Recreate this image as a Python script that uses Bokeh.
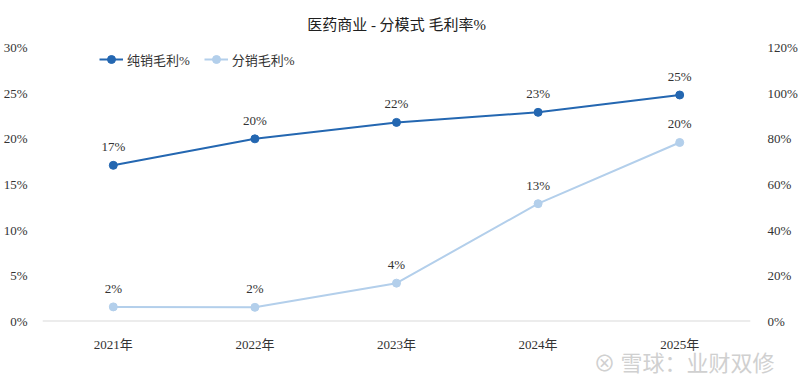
from bokeh.plotting import figure
from bokeh.models import (ColumnDataSource, Range1d, LinearAxis, FixedTicker, Title,
                          Legend, LegendItem, LabelSet, Span, CustomJSTickFormatter)
from bokeh.core.properties import value
from bokeh.embed import file_html
from bokeh.resources import INLINE

years = ["2021年", "2022年", "2023年", "2024年", "2025年"]
direct_margin = [17.1, 20.0, 21.8, 22.9, 24.8]      # 纯销毛利%
dist_margin = [1.6, 1.55, 4.2, 12.9, 19.6]          # 分销毛利%
left_ticks = [0, 5, 10, 15, 20, 25, 30]
right_ticks = [0, 20, 40, 60, 80, 100, 120]

FONT = "'Liberation Serif', 'Noto Sans CJK SC', serif"
DARK = "#2467b1"
LIGHT = "#b3cfeb"
TXT = "#333333"

src = ColumnDataSource(dict(
    x=years,
    d=direct_margin,
    s=dist_margin,
    dl=["%d%%" % round(v) for v in direct_margin],
    sl=["%d%%" % int(v + 0.5) for v in dist_margin],
))

p = figure(x_range=years, y_range=Range1d(0, 30),
           frame_width=708, frame_height=274,
           min_border_left=42, min_border_right=34, min_border_top=47, min_border_bottom=56,
           output_backend="svg", toolbar_location=None,
           outline_line_color=None, border_fill_color="white", background_fill_color="white")
p.extra_y_ranges = {"r": Range1d(0, 120)}

p.xgrid.visible = False
p.ygrid.visible = False

for ax in [p.xaxis[0], p.yaxis[0]]:
    ax.axis_line_color = None
    ax.major_tick_line_color = None
    ax.minor_tick_line_color = None
    ax.major_label_text_font = FONT
    ax.major_label_text_font_size = "13px"
    ax.major_label_text_color = TXT

p.yaxis[0].ticker = FixedTicker(ticks=left_ticks)
p.yaxis[0].formatter = CustomJSTickFormatter(code="return tick + '%';")
p.yaxis[0].major_label_standoff = 9
p.xaxis[0].major_label_standoff = 9

rax = LinearAxis(y_range_name="r", ticker=FixedTicker(ticks=right_ticks),
                 formatter=CustomJSTickFormatter(code="return tick + '%';"))
rax.axis_line_color = None
rax.major_tick_line_color = None
rax.minor_tick_line_color = None
rax.major_label_text_font = FONT
rax.major_label_text_font_size = "13px"
rax.major_label_text_color = TXT
rax.major_label_standoff = 11
p.add_layout(rax, "right")

p.add_layout(Span(location=0, dimension="width", line_color="#d9d9d9", line_width=2))

l1 = p.line("x", "d", source=src, line_color=DARK, line_width=2)
c1 = p.scatter("x", "d", source=src, size=8, fill_color=DARK, line_color=DARK)
l2 = p.line("x", "s", source=src, line_color=LIGHT, line_width=2)
c2 = p.scatter("x", "s", source=src, size=8, fill_color=LIGHT, line_color=LIGHT)

for col, lab in [("d", "dl"), ("s", "sl")]:
    p.add_layout(LabelSet(x="x", y=col, text=lab, source=src, y_offset=11,
                          text_align="center", text_baseline="bottom",
                          text_font=value(FONT), text_font_size="13px",
                          text_color=TXT))

legend = Legend(items=[LegendItem(label="纯销毛利%", renderers=[l1, c1]),
                       LegendItem(label="分销毛利%", renderers=[l2, c2])],
                orientation="horizontal", location=(57, 252),
                label_text_font=FONT, label_text_font_size="13px", label_text_color=TXT,
                background_fill_alpha=0, border_line_color=None,
                glyph_width=24, spacing=14, label_standoff=4,
                margin=0, padding=0)
p.add_layout(legend)

p.add_layout(Title(text="医药商业 - 分模式 毛利率%", align="center", offset=0, standoff=29,
                   text_font=FONT, text_font_size="15px", text_font_style="normal",
                   text_color="#202020"), "above")

p.add_layout(Title(text="⊗ 雪球：业财双修", align="right", offset=-24, standoff=-24,
                   text_font="'Noto Sans CJK SC', sans-serif", text_font_size="22px",
                   text_font_style="normal", text_color="#d0d0d0"), "below")

open("out.html", "w").write(file_html(p, INLINE))
